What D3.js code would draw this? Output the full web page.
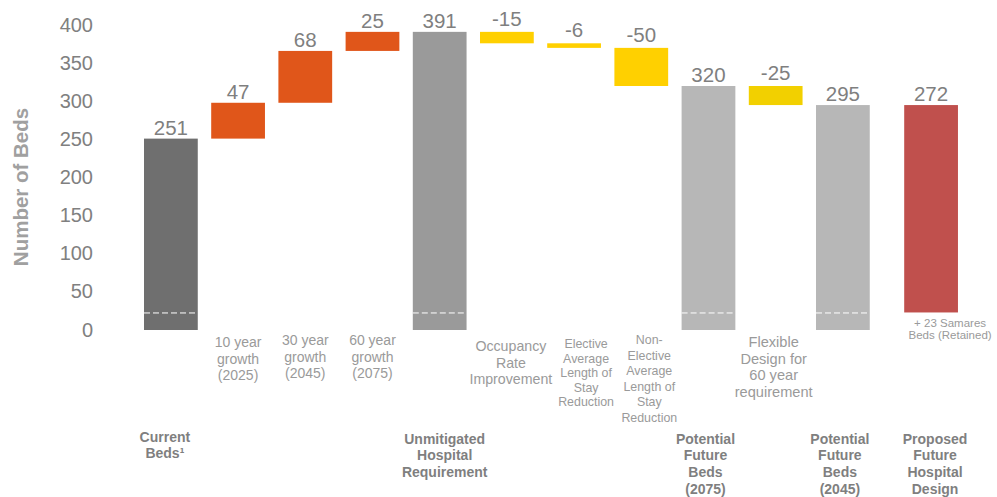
<!DOCTYPE html>
<html>
<head>
<meta charset="utf-8">
<script src="https://cdn.jsdelivr.net/npm/d3@7"></script>
<style>
  html, body { margin: 0; padding: 0; background: #ffffff; }
  svg { display: block; font-family: "Liberation Sans", Arial, sans-serif; }
</style>
</head>
<body>
<svg id="chart" width="997" height="497"></svg>
<script>
// ---------------- DATA ----------------
const categories = [
  "Current Beds", "10 year growth (2025)", "30 year growth (2045)", "60 year growth (2075)",
  "Unmitigated Hospital Requirement", "Occupancy Rate Improvement",
  "Elective Average Length of Stay Reduction", "Non-Elective Average Length of Stay Reduction",
  "Potential Future Beds (2075)", "Flexible Design for 60 year requirement",
  "Potential Future Beds (2045)", "Proposed Future Hospital Design"
];
const values = [251, 47, 68, 25, 391, -15, -6, -50, 320, -25, 295, 272];
const kinds = ["total", "increase", "increase", "increase", "total", "decrease", "decrease",
               "decrease", "total", "decrease", "total", "proposed"];
const retainedBeds = 23;
const upperLabels = [
  [], ["10 year", "growth", "(2025)"], ["30 year", "growth", "(2045)"], ["60 year", "growth", "(2075)"],
  [], ["Occupancy", "Rate", "Improvement"],
  ["Elective", "Average", "Length of", "Stay", "Reduction"],
  ["Non-", "Elective", "Average", "Length of", "Stay", "Reduction"],
  [], ["Flexible", "Design for", "60 year", "requirement"],
  [], ["+ 23 Samares", "Beds (Retained)"]
];
const lowerLabels = [
  ["Current", "Beds\u00B9"], [], [], [],
  ["Unmitigated", "Hospital", "Requirement"], [], [], [],
  ["Potential", "Future", "Beds", "(2075)"], [],
  ["Potential", "Future", "Beds", "(2045)"],
  ["Proposed", "Future", "Hospital", "Design"]
];
const yTicks = [0, 50, 100, 150, 200, 250, 300, 350, 400];
const yTitle = "Number of Beds";

// ---------------- LAYOUT / STYLE ----------------
const W = 997, H = 497;
const svg = d3.select("#chart");
svg.append("rect").attr("width", W).attr("height", H).attr("fill", "#ffffff");

const y = d3.scaleLinear().domain([0, 400]).range([330, 25]);
const x = d3.scaleBand().domain(categories).range([144, 144 + 12 * 67.2 - 0.2 * 67.2])
  .paddingInner(0.2).paddingOuter(0);
const lastGap = 21; // extra spacing before the proposed design bar
const bx = (c, i) => x(c) + (i === categories.length - 1 ? lastGap : 0);
const bw = x.bandwidth();

// compute waterfall segments
let running = 0;
const bars = categories.map((c, i) => {
  const v = values[i], k = kinds[i];
  let lo, hi;
  if (k === "total") { lo = 0; hi = v; running = v; }
  else if (k === "increase") { lo = running; hi = running + v; running = hi; }
  else if (k === "decrease") { hi = running; lo = running + v; running = lo; }
  else { lo = retainedBeds; hi = retainedBeds + v; }
  return { c, i, v, k, lo, hi };
});

const totalColors = ["#6f6f6f", "#9a9a9a", "#b7b7b7", "#b7b7b7"];
let totalIdx = 0;
function fillOf(d) {
  if (d.k === "total") return totalColors[Math.min(totalIdx++, totalColors.length - 1)];
  if (d.k === "increase") return "#e0561a";
  if (d.k === "decrease") return d.i === 9 ? "#f2d000" : "#ffd000";
  return "#c0504d";
}

// Y axis (labels only)
const yAxis = d3.axisLeft(y).tickValues(yTicks).tickSize(0).tickPadding(0);
const gy = svg.append("g").attr("transform", "translate(93,0)").call(yAxis);
gy.select(".domain").remove();
gy.selectAll("text").attr("font-size", 20).attr("fill", "#808080")
  .attr("font-family", "'Liberation Sans', Arial, sans-serif").attr("dy", "0.3em");

svg.append("text")
  .attr("transform", "translate(28,187) rotate(-90)")
  .attr("text-anchor", "middle")
  .attr("font-size", 20.5).attr("font-weight", "bold").attr("fill", "#a0a0a0")
  .text(yTitle);

// Bars
svg.append("g").selectAll("rect").data(bars).join("rect")
  .attr("x", d => bx(d.c, d.i))
  .attr("y", d => y(d.hi))
  .attr("width", bw)
  .attr("height", d => y(d.lo) - y(d.hi))
  .attr("fill", d => fillOf(d));

// Dashed retained-beds line in totals
svg.append("g").selectAll("line").data(bars.filter(d => d.k === "total")).join("line")
  .attr("x1", d => bx(d.c, d.i)).attr("x2", d => bx(d.c, d.i) + bw)
  .attr("y1", y(retainedBeds) + 0.5).attr("y2", y(retainedBeds) + 0.5)
  .attr("stroke", "#ffffff").attr("stroke-width", 1).attr("stroke-dasharray", "6,3");

// Value labels
svg.append("g").selectAll("text").data(bars).join("text")
  .attr("x", d => bx(d.c, d.i) + bw / 2)
  .attr("y", d => y(d.hi) - (d.k === "decrease" ? 6 : 4))
  .attr("text-anchor", "middle")
  .attr("font-size", 20.5).attr("fill", "#7f7f7f")
  .text(d => d.v);

// Upper (regular) category labels
const upperCfg = {
  1: { size: 14, lh: 16.5, base: 347, dx: 0 },
  2: { size: 14, lh: 16.5, base: 345, dx: 0 },
  3: { size: 14, lh: 16.5, base: 345, dx: 0 },
  5: { size: 14.2, lh: 16.5, base: 351, dx: 4 },
  6: { size: 12.4, lh: 14.6, base: 348, dx: 12 },
  7: { size: 12.4, lh: 15.5, base: 344, dx: 8 },
  9: { size: 14.6, lh: 16.5, base: 347, dx: -2 },
  11: { size: 11.5, lh: 12, base: 327, dx: 19 }
};
bars.forEach(d => {
  const lines = upperLabels[d.i];
  if (!lines.length) return;
  const cfg = upperCfg[d.i];
  const t = svg.append("text")
    .attr("text-anchor", "middle")
    .attr("font-size", cfg.size).attr("fill", "#9a9a9a");
  lines.forEach((ln, j) => {
    t.append("tspan").attr("x", bx(d.c, d.i) + bw / 2 + cfg.dx)
      .attr("y", cfg.base + j * cfg.lh).text(ln);
  });
});

// Lower (bold) category labels
bars.forEach(d => {
  const lines = lowerLabels[d.i];
  if (!lines.length) return;
  const t = svg.append("text")
    .attr("text-anchor", "middle")
    .attr("font-size", 14).attr("font-weight", "bold").attr("fill", "#7f7f7f");
  const dx = d.i === 0 ? -6 : (d.i === 4 ? 5 : (d.i === 11 ? 4 : -3));
  lines.forEach((ln, j) => {
    t.append("tspan").attr("x", bx(d.c, d.i) + bw / 2 + dx)
      .attr("y", (d.i === 0 ? 441.5 : 443.5) + j * 16.7).text(ln);
  });
});
</script>
</body>
</html>
